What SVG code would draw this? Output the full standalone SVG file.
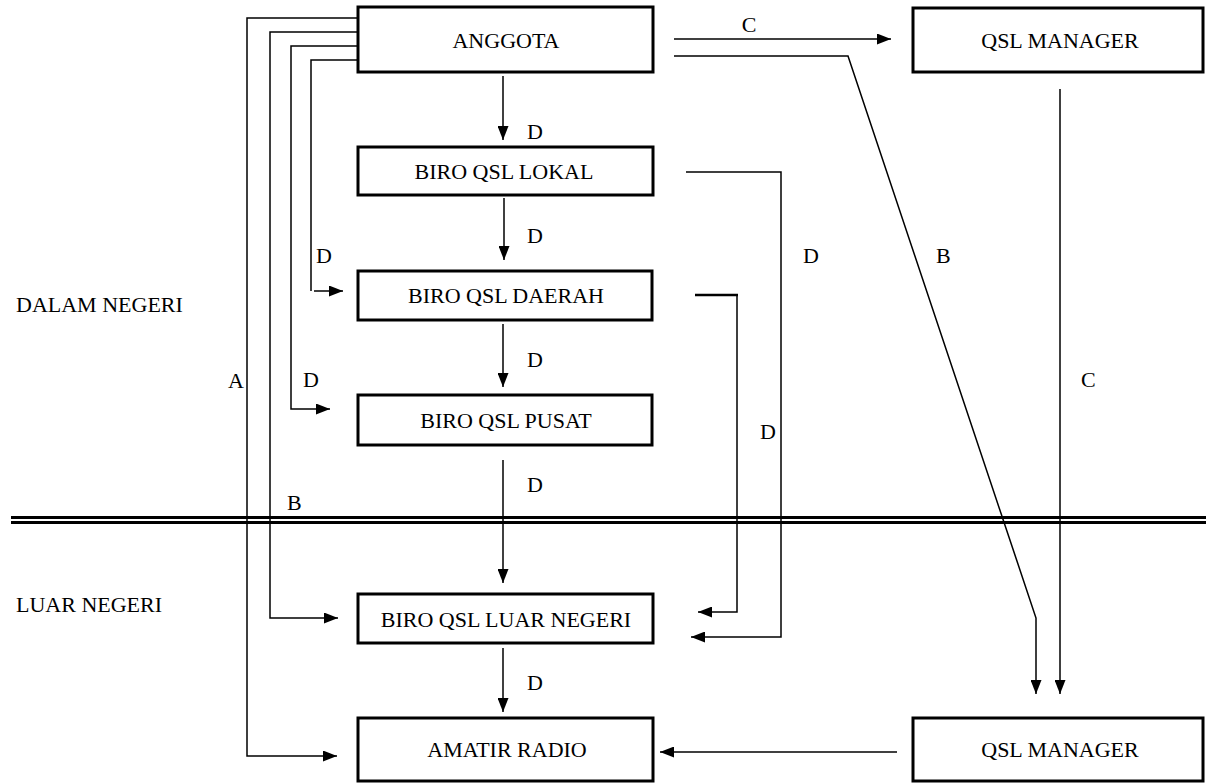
<svg xmlns="http://www.w3.org/2000/svg" width="1206" height="783" viewBox="0 0 1206 783">
<style>
text{font-family:"Liberation Serif","Times New Roman",serif;font-size:22px;fill:#000}
.box{fill:#fff;stroke:#000;stroke-width:3}
.c{text-anchor:middle}
.ln{fill:none;stroke:#000;stroke-width:1.5}
.thk{fill:none;stroke:#000;stroke-width:2.5}
.sep{fill:none;stroke:#000;stroke-width:3}
</style>
<defs>
<marker id="ah" viewBox="0 0 14 11" refX="14" refY="5.5" markerWidth="14" markerHeight="11" markerUnits="userSpaceOnUse" orient="auto"><path d="M0,0 L14,5.5 L0,11 z" fill="#000"/></marker>
</defs>
<rect width="1206" height="783" fill="#fff"/>
<g id="separator">
<line class="sep" x1="11" y1="517.5" x2="1206" y2="517.5"/>
<line class="sep" x1="11" y1="522.5" x2="1206" y2="522.5"/>
</g>
<g id="connectors">
<polyline class="ln" points="358,18 247,18 247,756 337,756" marker-end="url(#ah)"/>
<polyline class="ln" points="358,32 270,32 270,618 338,618" marker-end="url(#ah)"/>
<polyline class="ln" points="358,46 291,46 291,409 330,409" marker-end="url(#ah)"/>
<polyline class="ln" points="358,60 311,60 311,291"/>
<line class="ln" x1="314" y1="291" x2="343" y2="291" marker-end="url(#ah)"/>
<line class="ln" x1="503" y1="76" x2="503" y2="140" marker-end="url(#ah)"/>
<line class="ln" x1="504" y1="198" x2="504" y2="260" marker-end="url(#ah)"/>
<line class="ln" x1="503" y1="324" x2="503" y2="387" marker-end="url(#ah)"/>
<line class="ln" x1="503" y1="460" x2="503" y2="583" marker-end="url(#ah)"/>
<line class="ln" x1="503" y1="648" x2="503" y2="712" marker-end="url(#ah)"/>
<polyline class="ln" points="686,172 781,172 781,637 691,637" marker-end="url(#ah)"/>
<line class="thk" x1="695" y1="295" x2="738" y2="295"/>
<polyline class="ln" points="737,295 737,612 698,612" marker-end="url(#ah)"/>
<line class="ln" x1="674" y1="39" x2="891" y2="39" marker-end="url(#ah)"/>
<polyline class="ln" points="674,56 848,56 1036,618 1036,694" marker-end="url(#ah)"/>
<line class="ln" x1="1060" y1="89" x2="1060" y2="694" marker-end="url(#ah)"/>
<line class="ln" x1="897" y1="752" x2="660" y2="752" marker-end="url(#ah)"/>
</g>
<g id="labels">
<text x="749" y="32" class="c">C</text>
<text x="527" y="139">D</text>
<text x="527" y="243">D</text>
<text x="316" y="263">D</text>
<text x="527" y="367">D</text>
<text x="303" y="387">D</text>
<text x="228" y="388">A</text>
<text x="803" y="263">D</text>
<text x="936" y="263">B</text>
<text x="760" y="439">D</text>
<text x="1081" y="387">C</text>
<text x="527" y="492">D</text>
<text x="287" y="510">B</text>
<text x="527" y="690">D</text>
<text x="16" y="312">DALAM NEGERI</text>
<text x="16" y="612">LUAR NEGERI</text>
</g>
<g id="anggota"><rect class="box" x="358" y="7" width="295" height="65"/><text x="506" y="48" class="c">ANGGOTA</text></g>
<g id="qsl-manager-top"><rect class="box" x="913" y="8" width="290" height="64"/><text x="1060" y="48" class="c">QSL MANAGER</text></g>
<g id="biro-lokal"><rect class="box" x="358" y="147" width="295" height="48"/><text x="504" y="179" class="c">BIRO QSL LOKAL</text></g>
<g id="biro-daerah"><rect class="box" x="358" y="271" width="294" height="49"/><text x="506" y="303" class="c">BIRO QSL DAERAH</text></g>
<g id="biro-pusat"><rect class="box" x="358" y="395" width="294" height="50"/><text x="506" y="428" class="c">BIRO QSL PUSAT</text></g>
<g id="biro-luar-negeri"><rect class="box" x="358" y="594" width="295" height="49"/><text x="506" y="627" class="c">BIRO QSL LUAR NEGERI</text></g>
<g id="amatir-radio"><rect class="box" x="358" y="718" width="295" height="63"/><text x="507" y="757" class="c">AMATIR RADIO</text></g>
<g id="qsl-manager-bottom"><rect class="box" x="913" y="718" width="290" height="63"/><text x="1060" y="757" class="c">QSL MANAGER</text></g>
</svg>
